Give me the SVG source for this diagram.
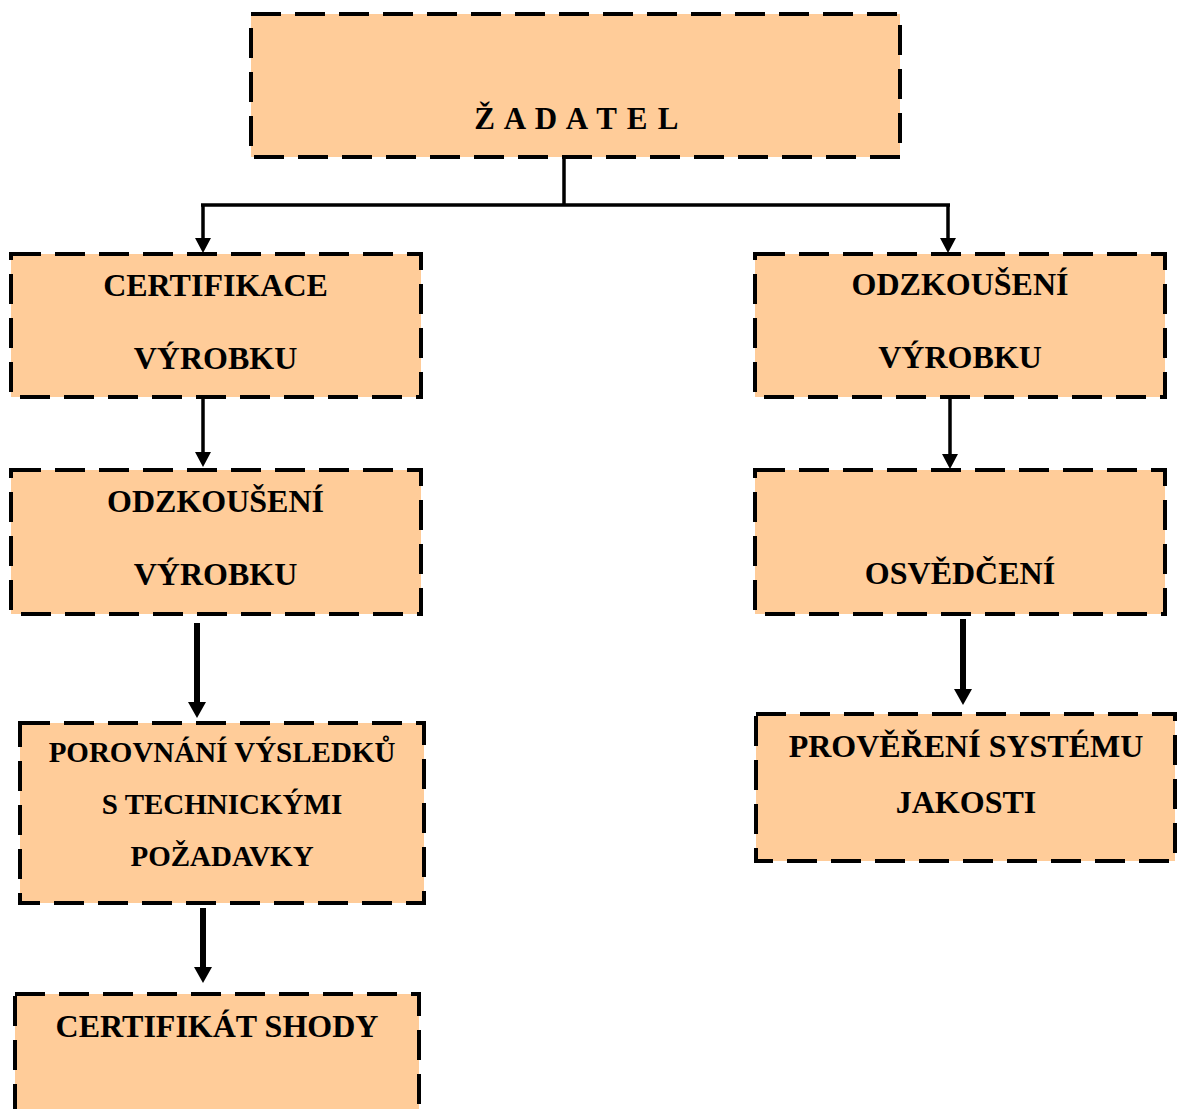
<svg xmlns="http://www.w3.org/2000/svg" width="1177" height="1109" viewBox="0 0 1177 1109">
<style>
.box{fill:#FFCC99;stroke:#000;stroke-width:4;stroke-dasharray:30 14}
.t{font-family:"Liberation Serif","Times New Roman",serif;font-weight:bold;font-size:32px;fill:#000;text-anchor:middle}
.s{font-size:29px}
.c{fill:none;stroke:#000;stroke-width:3.5}
.k{fill:none;stroke:#000;stroke-width:6}
</style>
<defs>
<marker id="ah" markerUnits="userSpaceOnUse" viewBox="0 0 15 16" markerWidth="15" markerHeight="16" refX="0" refY="8" orient="auto"><path d="M0,0 L15,8 L0,16 z" fill="#000"/></marker>
<marker id="ahk" markerUnits="userSpaceOnUse" viewBox="0 0 16 18" markerWidth="16" markerHeight="18" refX="0" refY="9" orient="auto"><path d="M0,0 L16,9 L0,18 z" fill="#000"/></marker>
</defs>
<g id="connectors">
<path class="c" d="M564,157 V205 M201,205 H950"/>
<path class="c" d="M203,205 V238" marker-end="url(#ah)"/>
<path class="c" d="M948,205 V238" marker-end="url(#ah)"/>
<path class="c" d="M203,397 V452" marker-end="url(#ah)"/>
<path class="c" d="M950,397 V454" marker-end="url(#ah)"/>
<path class="k" d="M197,623 V702" marker-end="url(#ahk)"/>
<path class="k" d="M203,908 V967" marker-end="url(#ahk)"/>
<path class="k" d="M963,619 V689" marker-end="url(#ahk)"/>
</g>
<g id="zadatel">
<rect class="box" x="251" y="14" width="649" height="143"/>
<text class="t" x="577" y="129" style="font-size:31px;letter-spacing:1.3px">Ž A D A T E L</text>
</g>
<g id="certifikace">
<rect class="box" x="11" y="254" width="410" height="143"/>
<text class="t" x="215.5" y="296">CERTIFIKACE</text>
<text class="t" x="215.5" y="369">VÝROBKU</text>
</g>
<g id="odzkouseni-left">
<rect class="box" x="11" y="470" width="410" height="144"/>
<text class="t" x="215.5" y="512">ODZKOUŠENÍ</text>
<text class="t" x="215.5" y="585">VÝROBKU</text>
</g>
<g id="porovnani">
<rect class="box" x="20" y="723" width="404" height="180"/>
<text class="t s" x="222" y="762">POROVNÁNÍ VÝSLEDKŮ</text>
<text class="t s" x="222" y="814">S TECHNICKÝMI</text>
<text class="t s" x="222" y="866">POŽADAVKY</text>
</g>
<g id="certifikat">
<rect class="box" x="15" y="994" width="404" height="140"/>
<text class="t" x="217" y="1037">CERTIFIKÁT SHODY</text>
</g>
<g id="odzkouseni-right">
<rect class="box" x="755" y="254" width="410" height="143"/>
<text class="t" x="960" y="295">ODZKOUŠENÍ</text>
<text class="t" x="960" y="368">VÝROBKU</text>
</g>
<g id="osvedceni">
<rect class="box" x="755" y="470" width="410" height="144"/>
<text class="t" x="960" y="584">OSVĚDČENÍ</text>
</g>
<g id="provereni">
<rect class="box" x="756" y="714" width="419" height="147"/>
<text class="t" x="966" y="757">PROVĚŘENÍ SYSTÉMU</text>
<text class="t" x="966" y="813">JAKOSTI</text>
</g>
</svg>
